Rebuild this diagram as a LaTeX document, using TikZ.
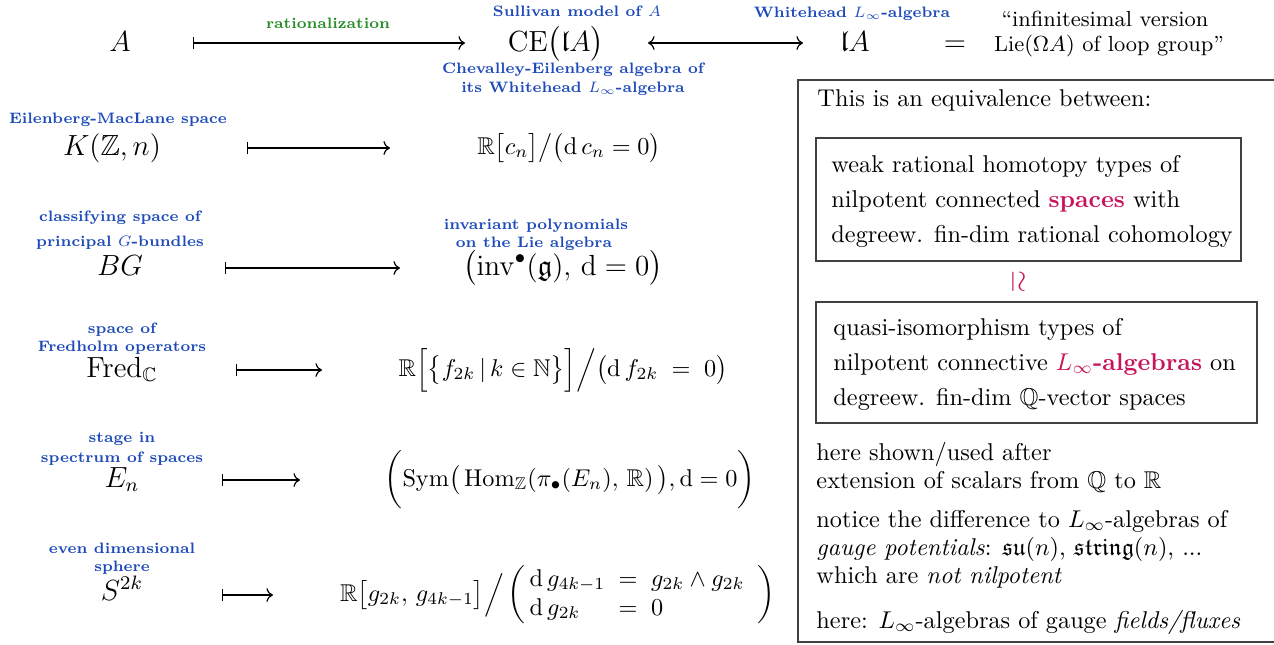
\documentclass[tikz,border=0pt]{standalone}
\usepackage{amsmath,amssymb}
\usepackage{graphicx}
\usetikzlibrary{arrows.meta}
\definecolor{lblblue}{RGB}{30,75,185}
\definecolor{ratgreen}{RGB}{40,140,40}
\definecolor{hilite}{RGB}{200,20,90}
\newcommand{\lbtxt}[1]{\scalebox{0.89}{#1}}
\tikzset{
  lbl/.style={font=\scriptsize\bfseries, text=lblblue, anchor=base, inner sep=0pt},
  mth/.style={font=\large, anchor=base, inner sep=0pt},
  rmth/.style={font=\normalsize, anchor=base, inner sep=0pt},
  txt/.style={font=\normalsize, anchor=base west, inner sep=0pt},
  ctxt/.style={font=\small, anchor=base, inner sep=0pt},
  mapsto/.style={line width=0.5pt, {Bar[width=5pt,line width=0.5pt]}-{Computer Modern Rightarrow[line width=0.5pt]}},
  biarrow/.style={line width=0.5pt, {Computer Modern Rightarrow[line width=0.5pt]}-{Computer Modern Rightarrow[line width=0.5pt]}},
  framebox/.style={draw=black!75, line width=0.6pt},
}
\begin{document}
\begin{tikzpicture}[x=0.412pt,y=-0.412pt]
\useasboundingbox (0,0) rectangle (1274,644);

% ---------- top row ----------
\node[mth] (A) at (120,51) {$A$};
\coordinate (r1s) at (193,43);
\coordinate (r1e) at (465,43);
\draw[mapsto] (r1s) -- (r1e);
\node[lbl, text=ratgreen] (rat) at (328,28) {\lbtxt{rationalization}};
\node[lbl] (sull) at (577,16) {\lbtxt{Sullivan model of $A$}};
\node[mth] (CE) at (556,51) {$\mathrm{CE}\big(\mathfrak{l}A\big)$};
\node[lbl] (chev1) at (573,73) {\lbtxt{Chevalley-Eilenberg algebra of}};
\node[lbl] (chev2) at (573,92) {\lbtxt{its Whitehead $L_\infty$-algebra}};
\coordinate (r1bs) at (648,43);
\coordinate (r1be) at (803,43);
\draw[biarrow] (r1bs) -- (r1be);
\node[lbl] (wh) at (852,17) {\lbtxt{Whitehead $L_\infty$-algebra}};
\node[mth] (lA) at (855,51) {$\mathfrak{l}A$};
\node[mth] (eq) at (955,51) {$=$};
\node[ctxt] (inf1) at (1105,26) {``infinitesimal version};
\node[ctxt] (inf2) at (1109,51) {$\mathrm{Lie}(\Omega A)$ of loop group''};

% ---------- row 2 ----------
\node[lbl] (l2) at (118,123) {\lbtxt{Eilenberg-MacLane space}};
\node[mth] (K) at (112,155) {$K(\mathbb{Z},n)$};
\coordinate (r2s) at (247,148);
\coordinate (r2e) at (390,148);
\draw[mapsto] (r2s) -- (r2e);
\node[rmth] (Rc) at (569,154) {$\mathbb{R}\big[c_n\big]\big/\big(\mathrm{d}\,c_n = 0\big)$};

% ---------- row 3 ----------
\node[lbl] (l3a) at (120,221) {\lbtxt{classifying space of}};
\node[lbl] (l3b) at (120,246) {\lbtxt{principal $G$-bundles}};
\node[mth] (BG) at (120,275) {$BG$};
\coordinate (r3s) at (225,268);
\coordinate (r3e) at (400,268);
\draw[mapsto] (r3s) -- (r3e);
\node[lbl] (l3c) at (536,229) {\lbtxt{invariant polynomials}};
\node[lbl] (l3d) at (534,247) {\lbtxt{on the Lie algebra}};
\node[mth] (inv) at (563,275) {$\big(\mathrm{inv}^\bullet(\mathfrak{g}),\, \mathrm{d}=0\big)$};

% ---------- row 4 ----------
\node[lbl] (l4a) at (122,333) {\lbtxt{space of}};
\node[lbl] (l4b) at (122,351) {\lbtxt{Fredholm operators}};
\node[mth] (Fred) at (122,377) {$\mathrm{Fred}_{\mathbb{C}}$};
\coordinate (r4s) at (236,370);
\coordinate (r4e) at (322,370);
\draw[mapsto] (r4s) -- (r4e);
\node[rmth] (Rf) at (563,376) {$\mathbb{R}\Big[\big\{ f_{2k} \,\vert\, k \in \mathbb{N} \big\}\Big]\Big/\big(\mathrm{d}\, f_{2k} \;=\; 0\big)$};

% ---------- row 5 ----------
\node[lbl] (l5a) at (122,442) {\lbtxt{stage in}};
\node[lbl] (l5b) at (122,462) {\lbtxt{spectrum of spaces}};
\node[mth] (En) at (122,487) {$E_n$};
\coordinate (r5s) at (222,480);
\coordinate (r5e) at (300,480);
\draw[mapsto] (r5s) -- (r5e);
\node[rmth] (Sym) at (570,486) {$\bigg(\mathrm{Sym}\big(\,\mathrm{Hom}_{\mathbb{Z}}(\pi_\bullet(E_n),\,\mathbb{R})\,\big), \mathrm{d}=0\bigg)$};

% ---------- row 6 ----------
\node[lbl] (l6a) at (122,553) {\lbtxt{even dimensional}};
\node[lbl] (l6b) at (122,571) {\lbtxt{sphere}};
\node[mth] (S) at (122,600) {$S^{2k}$};
\coordinate (r6s) at (222,595);
\coordinate (r6e) at (273,595);
\draw[mapsto] (r6s) -- (r6e);
\node[rmth] (Rg) at (558,601) {$\mathbb{R}\big[g_{2k},\, g_{4k-1}\big]\Big/\left(\begin{array}{@{\,}l@{\;\;=\;\;}l@{\;\;}} \mathrm{d}\,g_{4k-1} & g_{2k}\wedge g_{2k} \\ \mathrm{d}\,g_{2k} & 0\end{array}\right)$};

% ---------- right box ----------
\draw[framebox] (1290,80) -- (798,80) -- (798,642) -- (1290,642);
\node[txt] (t0) at (817,106) {This is an equivalence between:};
\draw[framebox] (816,138) rectangle (1241,261);
\node[txt] (b1a) at (831,172) {weak rational homotopy types of};
\node[txt] (b1b) at (831,207) {nilpotent connected \textcolor{hilite}{\textbf{spaces}} with};
\node[txt] (b1c) at (831,242) {degreew. fin-dim rational cohomology};
\node[inner sep=0pt, text=hilite, font=\large] (eqv) at (1018,282) {\rotatebox{-90}{$\simeq$}};
\draw[framebox] (816,302) rectangle (1257,423);
\node[txt] (b2a) at (833,335) {quasi-isomorphism types of};
\node[txt] (b2b) at (833,370) {nilpotent connective \textcolor{hilite}{$L_\infty$\textbf{-algebras}} on};
\node[txt] (b2c) at (833,405) {degreew. fin-dim $\mathbb{Q}$-vector spaces};
\node[txt] (n1) at (816,460) {here shown/used after};
\node[txt] (n2) at (816,488) {extension of scalars from $\mathbb{Q}$ to $\mathbb{R}$};
\node[txt] (n3) at (816,527) {notice the difference to $L_\infty$-algebras of};
\node[txt] (n4) at (816,555) {\emph{gauge potentials}: $\mathfrak{su}(n)$, $\mathfrak{string}(n)$, ...};
\node[txt] (n5) at (816,583) {which are \emph{not nilpotent}};
\node[txt] (n6) at (816,628) {here: $L_\infty$-algebras of gauge \emph{fields/fluxes}};
\end{tikzpicture}
\end{document}
